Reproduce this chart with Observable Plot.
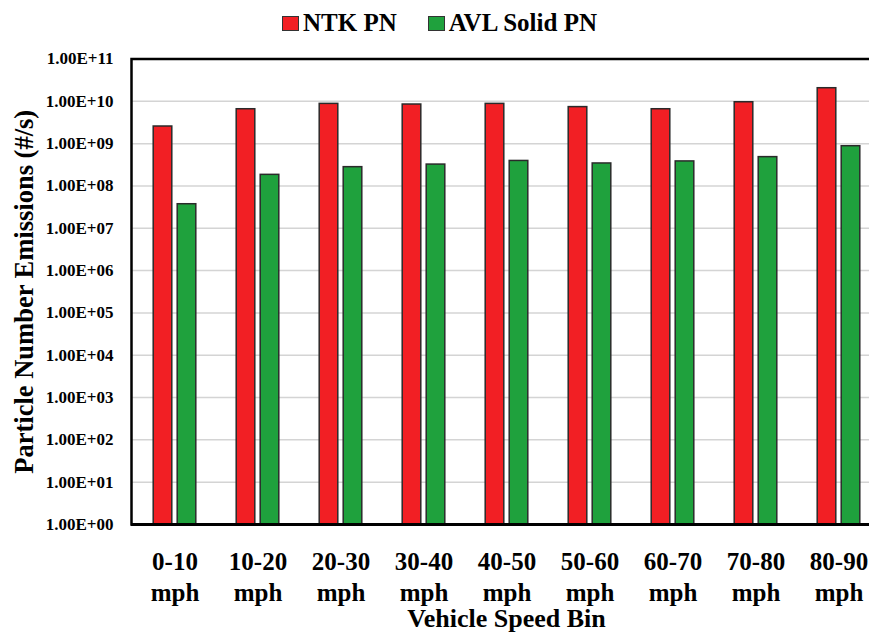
<!DOCTYPE html>
<html>
<head>
<meta charset="utf-8">
<script src="https://cdn.jsdelivr.net/npm/d3@7"></script>
<script src="https://cdn.jsdelivr.net/npm/@observablehq/plot@0.6"></script>
<style>
  html, body { margin: 0; padding: 0; background: #fff; width: 869px; height: 633px; overflow: hidden; }
  #legend { height: 46px; display: flex; align-items: center; padding-left: 282px; box-sizing: border-box;
    font: bold 25px "Liberation Serif", "Times New Roman", serif; color: #000; }
  #legend .item { display: flex; align-items: center; }
  #legend .sw { width: 15px; height: 13px; border: 1.5px solid #333; margin-right: 4px; }
  #legend .item + .item { margin-left: 31px; }
  #chart { width: 882px; }
</style>
</head>
<body>
<div id="legend"></div>
<div id="chart"></div>
<script>
// ---- data ----
const speedBins = ["0-10 mph", "10-20 mph", "20-30 mph", "30-40 mph", "40-50 mph", "50-60 mph", "60-70 mph", "70-80 mph", "80-90 mph"];
const ntkPN = [2.54e9, 6.5e9, 8.7e9, 8.4e9, 8.7e9, 7.3e9, 6.5e9, 9.5e9, 2.04e10];
const avlSolidPN = [3.7e7, 1.83e8, 2.78e8, 3.2e8, 3.9e8, 3.4e8, 3.8e8, 4.8e8, 8.7e8];
const seriesNames = ["NTK PN", "AVL Solid PN"];
const seriesColors = ["#F21F24", "#1FA13D"];
const yTickExponents = [0, 1, 2, 3, 4, 5, 6, 7, 8, 9, 10, 11];
const yLabel = "Particle Number Emissions (#/s)";
const xLabel = "Vehicle Speed Bin";

// ---- build ----
const yTicks = yTickExponents.map(e => Math.pow(10, e));
const fmtE = d => "1.00E+" + String(Math.round(Math.log10(d))).padStart(2, "0");
const ntkRows = speedBins.map((bin, i) => ({bin, series: seriesNames[0], value: ntkPN[i]}));
const avlRows = speedBins.map((bin, i) => ({bin, series: seriesNames[1], value: avlSolidPN[i]}));

const legend = document.getElementById("legend");
seriesNames.forEach((name, i) => {
  const item = document.createElement("div");
  item.className = "item";
  const sw = document.createElement("div");
  sw.className = "sw";
  sw.style.background = seriesColors[i];
  const t = document.createElement("span");
  t.textContent = name;
  item.appendChild(sw);
  item.appendChild(t);
  legend.appendChild(item);
});

const chart = Plot.plot({
  width: 882,
  height: 587,
  marginTop: 12.5,
  marginBottom: 109,
  marginLeft: 131,
  marginRight: 1,
  style: {fontFamily: "'Liberation Serif', 'Times New Roman', serif", fontWeight: "bold", color: "#000", background: "#fff"},
  x: {domain: speedBins, padding: 0},
  y: {type: "log", domain: [1, 1e11]},
  color: {domain: seriesNames, range: seriesColors},
  marks: [
    Plot.gridY({ticks: yTicks, stroke: "#d4d4d4", strokeOpacity: 1, strokeWidth: 1.5}),
    Plot.barY(ntkRows, {x: "bin", y1: 1, y2: "value", fill: "series", stroke: "#2a2a2a", strokeWidth: 1.5, insetLeft: 20.2, insetRight: 44.2}),
    Plot.barY(avlRows, {x: "bin", y1: 1, y2: "value", fill: "series", stroke: "#2a2a2a", strokeWidth: 1.5, insetLeft: 44.2, insetRight: 20.2}),
    Plot.frame({stroke: "#000", strokeWidth: 2.5}),
    Plot.ruleY([1], {stroke: "#000", strokeWidth: 3}),
    Plot.axisY({ticks: yTicks, tickFormat: fmtE, tickSize: 0, tickPadding: 18, fontSize: 17, fontWeight: "bold", label: null}),
    Plot.axisX({tickSize: 0, tickPadding: 23, fontSize: 25, fontWeight: "bold", lineHeight: 1.24, tickFormat: d => d.replace(" ", "\n"), label: null}),
    Plot.text([yLabel], {frameAnchor: "left", dx: -107, rotate: -90, fontSize: 26.5, fontWeight: "bold", lineAnchor: "middle", textAnchor: "middle"}),
    Plot.text([xLabel], {frameAnchor: "bottom", dy: 94, fontSize: 26, fontWeight: "bold", lineAnchor: "middle", textAnchor: "middle"})
  ]
});
document.getElementById("chart").appendChild(chart);
</script>
</body>
</html>
